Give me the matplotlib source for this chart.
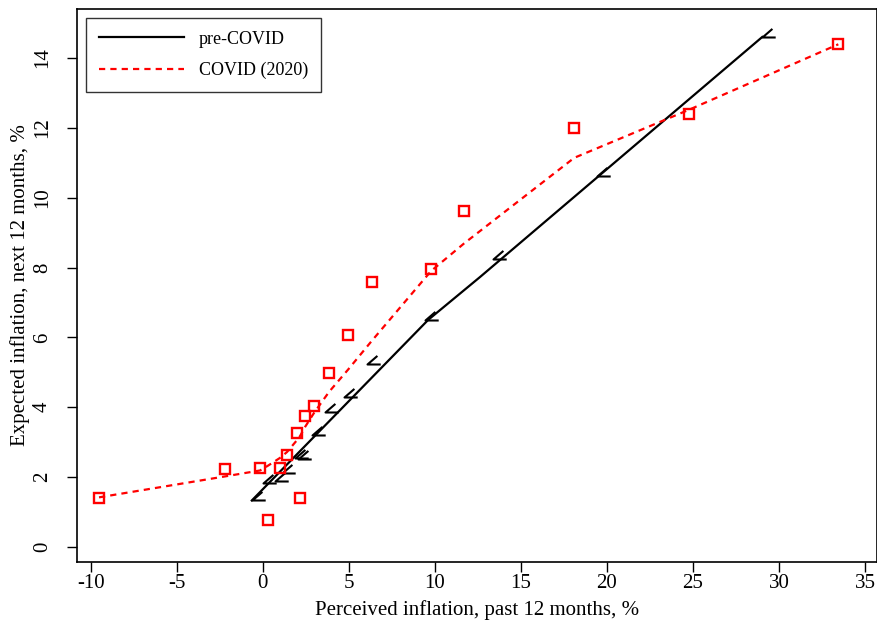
import matplotlib.pyplot as plt
from matplotlib.path import Path

plt.rcParams['font.family'] = ['Liberation Serif', 'DejaVu Serif']

# pre-COVID: binned means and fitted line
pre_x = [-0.64, 0.03, 0.72, 1.10, 1.88, 2.05, 2.85, 3.62, 4.69, 6.05, 9.44, 13.36, 19.44, 29.03]
pre_y = [1.35, 1.82, 1.89, 2.12, 2.54, 2.52, 3.21, 3.87, 4.29, 5.24, 6.50, 8.25, 10.62, 14.60]
pre_fit_x = [-0.64, 9.61, 12.63, 29.03]
pre_fit_y = [1.33, 6.50, 7.73, 14.60]

# COVID (2020): binned means and fitted values
cov_x = [-9.52, -2.19, -0.16, 0.31, 1.00, 1.41, 1.99, 2.17, 2.46, 2.98,
         3.85, 4.96, 6.35, 9.78, 11.70, 18.10, 24.79, 33.45]
cov_y = [1.40, 2.23, 2.26, 0.77, 2.26, 2.63, 3.26, 1.40, 3.75, 4.04,
         4.98, 6.07, 7.59, 7.96, 9.62, 12.00, 12.40, 14.40]
cov_fit_y = [1.42, 2.02, 2.19, 2.33, 2.55, 2.72, 3.06, 3.18, 3.44, 3.84,
             4.44, 5.08, 5.91, 7.90, 8.69, 11.14, 12.52, 14.39]

x_ticks = [-10, -5, 0, 5, 10, 15, 20, 25, 30, 35]
y_ticks = [0, 2, 4, 6, 8, 10, 12, 14]

# angle shaped marker (vertex at the data point)
angle = Path([(1, 0), (0, 0), (0.75, 0.65)], [Path.MOVETO, Path.LINETO, Path.LINETO])

fig = plt.figure(figsize=(8.78, 6.22), dpi=100)
ax = fig.add_axes([0.0877, 0.0965, 0.9112, 0.889])

ax.plot(pre_fit_x, pre_fit_y, color='black', lw=1.6, label='pre-COVID')
ax.plot(pre_x, pre_y, ls='none', marker=angle, ms=19, mfc='none', mec='black', mew=1.5)

ax.plot(cov_x, cov_fit_y, color='red', lw=1.6, ls=(0, (2.8, 2.3)), label='COVID (2020)')
ax.plot(cov_x, cov_y, ls='none', marker='s', ms=7, mfc='none', mec='red', mew=1.7)

ax.set_xlim(-10.8, 35.7)
ax.set_ylim(-0.43, 15.4)
ax.set_xticks(x_ticks)
ax.set_xticklabels([str(v) for v in x_ticks])
ax.set_yticks(y_ticks)
ax.set_yticklabels([str(v) for v in y_ticks])

ax.tick_params(direction='out', length=7, width=1, labelsize=15)
ax.tick_params(axis='x', pad=2)
ax.tick_params(axis='y', pad=11, labelrotation=90)
for lab in ax.get_yticklabels():
    lab.set_va('center')
for s in ax.spines.values():
    s.set_linewidth(1.2)

ax.set_xlabel('Perceived inflation, past 12 months, %', fontsize=15, labelpad=5)
ax.set_ylabel('Expected inflation, next 12 months, %', fontsize=15, labelpad=2)

leg = ax.legend(loc='upper left', fontsize=13, frameon=True, fancybox=False,
                edgecolor='black', handlelength=4.7, handletextpad=0.85,
                labelspacing=0.8, borderaxespad=0.5, borderpad=0.7)
leg.get_frame().set_linewidth(1.0)

fig.savefig('out.png', dpi=100)
